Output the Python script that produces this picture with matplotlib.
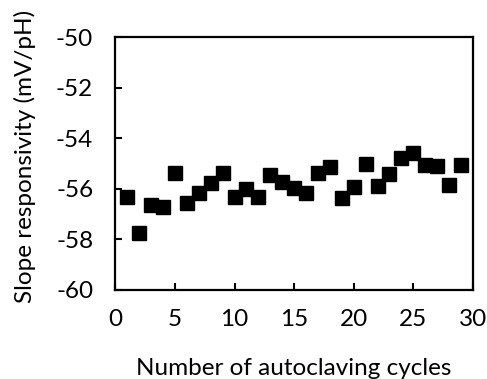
import matplotlib
matplotlib.use("Agg")
import matplotlib.pyplot as plt

plt.rcParams['font.family'] = ['Lato', 'DejaVu Sans']

cycles = list(range(1, 30))
slope = [-56.31, -57.74, -56.64, -56.71, -55.36, -56.58, -56.18, -55.76, -55.36, -56.31,
         -56.02, -56.31, -55.47, -55.73, -55.98, -56.15, -55.39, -55.12, -56.38, -55.92,
         -55.03, -55.88, -55.43, -54.79, -54.59, -55.06, -55.10, -55.85, -55.06]
xticks = [0, 5, 10, 15, 20, 25, 30]
yticks = [-60, -58, -56, -54, -52, -50]

fig = plt.figure(figsize=(4.87, 3.79), dpi=100)
ax = fig.add_axes([0.237, 0.235, 0.734, 0.667])
ax.plot(cycles, slope, linestyle='none', marker='s', markersize=10.5, color='black')
ax.set_xlim(0, 30)
ax.set_ylim(-60, -50)
ax.set_xticks(xticks)
ax.set_yticks(yticks)
ax.set_yticklabels([str(v) for v in yticks])
ax.tick_params(direction='in', length=5, width=1.5, labelsize=17.5)
ax.tick_params(axis='x', pad=14)
ax.tick_params(axis='y', pad=16)
for s in ax.spines.values():
    s.set_linewidth(1.6)
ax.set_xlabel('Number of autoclaving cycles', fontsize=17.5, va='center')
ax.set_ylabel('Slope responsivity (mV/pH)', fontsize=17.5, va='center')
ax.xaxis.set_label_coords(0.5, -0.309)
ax.yaxis.set_label_coords(-0.252, 0.53)
fig.savefig('out.png', dpi=100)
